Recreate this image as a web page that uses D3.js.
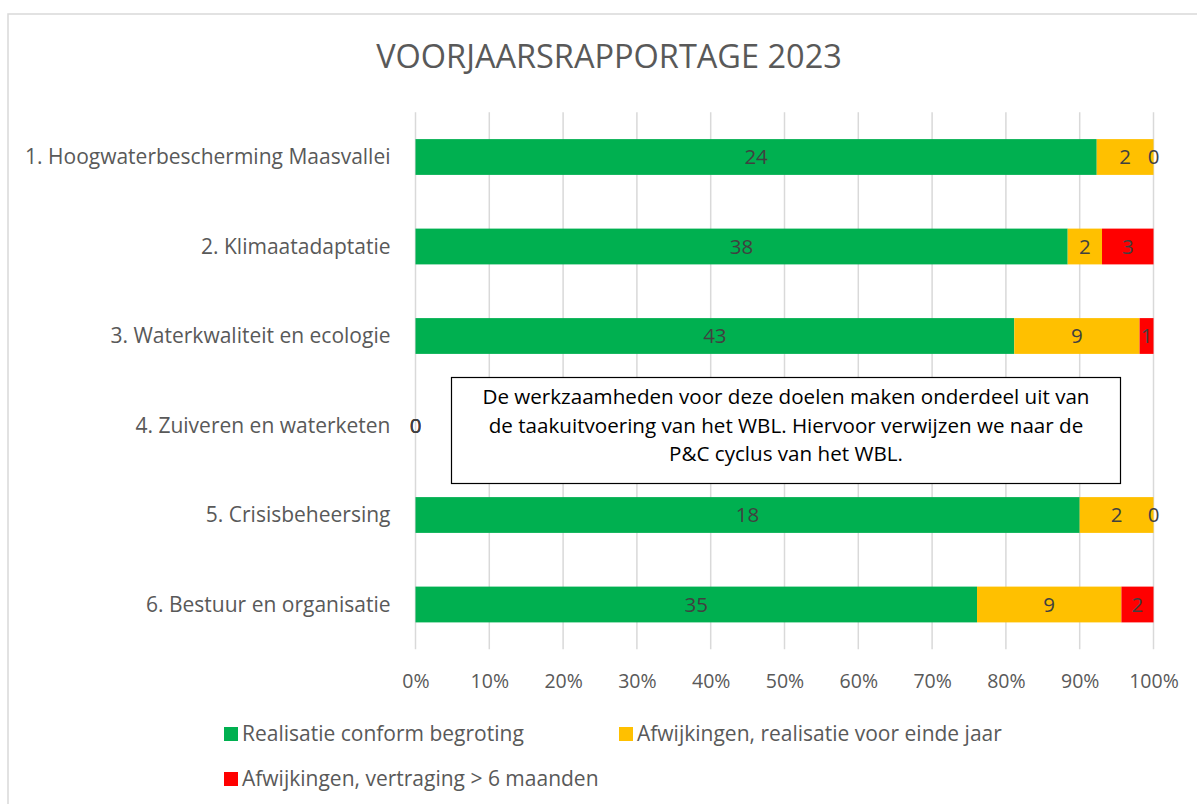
<!DOCTYPE html>
<html>
<head>
<meta charset="utf-8">
<script src="https://cdn.jsdelivr.net/npm/d3@7"></script>
<style>
  html, body { margin: 0; padding: 0; background: #fff; }
  svg { display: block; }
  text { font-family: "Open Sans", "Noto Sans", sans-serif; }
</style>
</head>
<body>
<svg id="chart" width="1197" height="804"></svg>
<script>
const title = "VOORJAARSRAPPORTAGE 2023";
const categories = [
  "1. Hoogwaterbescherming Maasvallei",
  "2. Klimaatadaptatie",
  "3. Waterkwaliteit en ecologie",
  "4. Zuiveren en waterketen",
  "5. Crisisbeheersing",
  "6. Bestuur en organisatie"
];
const seriesNames = [
  "Realisatie conform begroting",
  "Afwijkingen, realisatie voor einde jaar",
  "Afwijkingen, vertraging > 6 maanden"
];
const realisatie = [24, 38, 43, 0, 18, 35];
const afwijkingJaar = [2, 2, 9, 0, 2, 9];
const vertraging = [0, 3, 1, 0, 0, 2];
const tickValues = [0, 0.1, 0.2, 0.3, 0.4, 0.5, 0.6, 0.7, 0.8, 0.9, 1.0];
const noteLines = [
  "De werkzaamheden voor deze doelen maken onderdeel uit van",
  "de taakuitvoering van het WBL. Hiervoor verwijzen we naar de",
  "P&C cyclus van het WBL."
];
const colors = ["#00B050", "#FFC000", "#FF0000"];

const svg = d3.select("#chart");
const W = 1197, H = 804;
const margin = { left: 415.5, right: 1153.5, top: 112.25, bottom: 649.25 };

// outer chart border
svg.append("rect")
  .attr("x", 8).attr("y", 14).attr("width", W + 20).attr("height", H + 20)
  .attr("fill", "#fff").attr("stroke", "#D9D9D9").attr("stroke-width", 1.5);

// title
svg.append("text")
  .attr("x", 609).attr("y", 68)
  .attr("text-anchor", "middle")
  .attr("font-size", 32.5)
  .attr("fill", "#595959")
  .text(title);

const x = d3.scaleLinear().domain([0, 1]).range([margin.left, margin.right]);
const y = d3.scaleBand().domain(categories).range([margin.top, margin.bottom]).paddingInner(0.6).paddingOuter(0.3);

// gridlines
svg.append("g").selectAll("line")
  .data(tickValues)
  .join("line")
  .attr("x1", d => x(d)).attr("x2", d => x(d))
  .attr("y1", margin.top).attr("y2", margin.bottom)
  .attr("stroke", "#D9D9D9").attr("stroke-width", 1.5);

// x axis labels
const xAxis = d3.axisBottom(x).tickValues(tickValues).tickFormat(d3.format(".0%")).tickSize(0).tickPadding(0);
const gx = svg.append("g").attr("transform", `translate(0, ${margin.bottom})`).call(xAxis);
gx.select(".domain").remove();
gx.selectAll("text")
  .attr("dy", null)
  .attr("y", 38.5)
  .attr("font-size", 19.5)
  .attr("font-family", "Open Sans, sans-serif")
  .attr("fill", "#595959");

// y axis labels
const yAxis = d3.axisLeft(y).tickSize(0).tickPadding(0);
const gy = svg.append("g").attr("transform", `translate(${margin.left - 25}, 0)`).call(yAxis);
gy.select(".domain").remove();
gy.selectAll("text")
  .attr("dy", "0.35em")
  .attr("font-size", 21)
  .attr("font-family", "Open Sans, sans-serif")
  .attr("fill", "#595959");

// stacked data
const rows = categories.map((c, i) => ({
  cat: c, v: [realisatie[i], afwijkingJaar[i], vertraging[i]]
}));
const segs = [];
rows.forEach(r => {
  const total = d3.sum(r.v);
  let acc = 0;
  r.v.forEach((v, k) => {
    const x0 = total ? acc / total : 0;
    acc += v;
    const x1 = total ? acc / total : 0;
    segs.push({ cat: r.cat, k, v, x0, x1 });
  });
});

svg.append("g").selectAll("rect")
  .data(segs.filter(s => s.v > 0))
  .join("rect")
  .attr("x", d => x(d.x0))
  .attr("width", d => x(d.x1) - x(d.x0))
  .attr("y", d => y(d.cat))
  .attr("height", y.bandwidth())
  .attr("fill", d => colors[d.k]);

svg.append("g").selectAll("text")
  .data(segs)
  .join("text")
  .attr("x", d => (x(d.x0) + x(d.x1)) / 2)
  .attr("y", d => y(d.cat) + y.bandwidth() / 2)
  .attr("dy", "0.36em")
  .attr("text-anchor", "middle")
  .attr("font-size", 20.5)
  .attr("fill", "#404040")
  .text(d => d.v);

// note box
const box = svg.append("g");
box.append("rect")
  .attr("x", 451.5).attr("y", 377.5).attr("width", 669).attr("height", 106)
  .attr("fill", "#fff").attr("stroke", "#000").attr("stroke-width", 1.2);
box.selectAll("text.note")
  .data(noteLines)
  .join("text")
  .attr("class", "note")
  .attr("x", 786)
  .attr("y", (d, i) => 404 + i * 28.5)
  .attr("text-anchor", "middle")
  .attr("font-size", 20.6)
  .attr("fill", "#000")
  .text(d => d);

// legend
const legendPos = [[224, 734], [619, 734], [224, 779]];
const lg = svg.append("g").selectAll("g")
  .data(seriesNames)
  .join("g")
  .attr("transform", (d, i) => `translate(${legendPos[i][0]}, ${legendPos[i][1]})`);
lg.append("rect")
  .attr("x", 0).attr("y", -7).attr("width", 14).attr("height", 14)
  .attr("fill", (d, i) => colors[i]);
lg.append("text")
  .attr("x", 18).attr("dy", "0.35em")
  .attr("font-size", 21)
  .attr("fill", "#595959")
  .text(d => d);
</script>
</body>
</html>
